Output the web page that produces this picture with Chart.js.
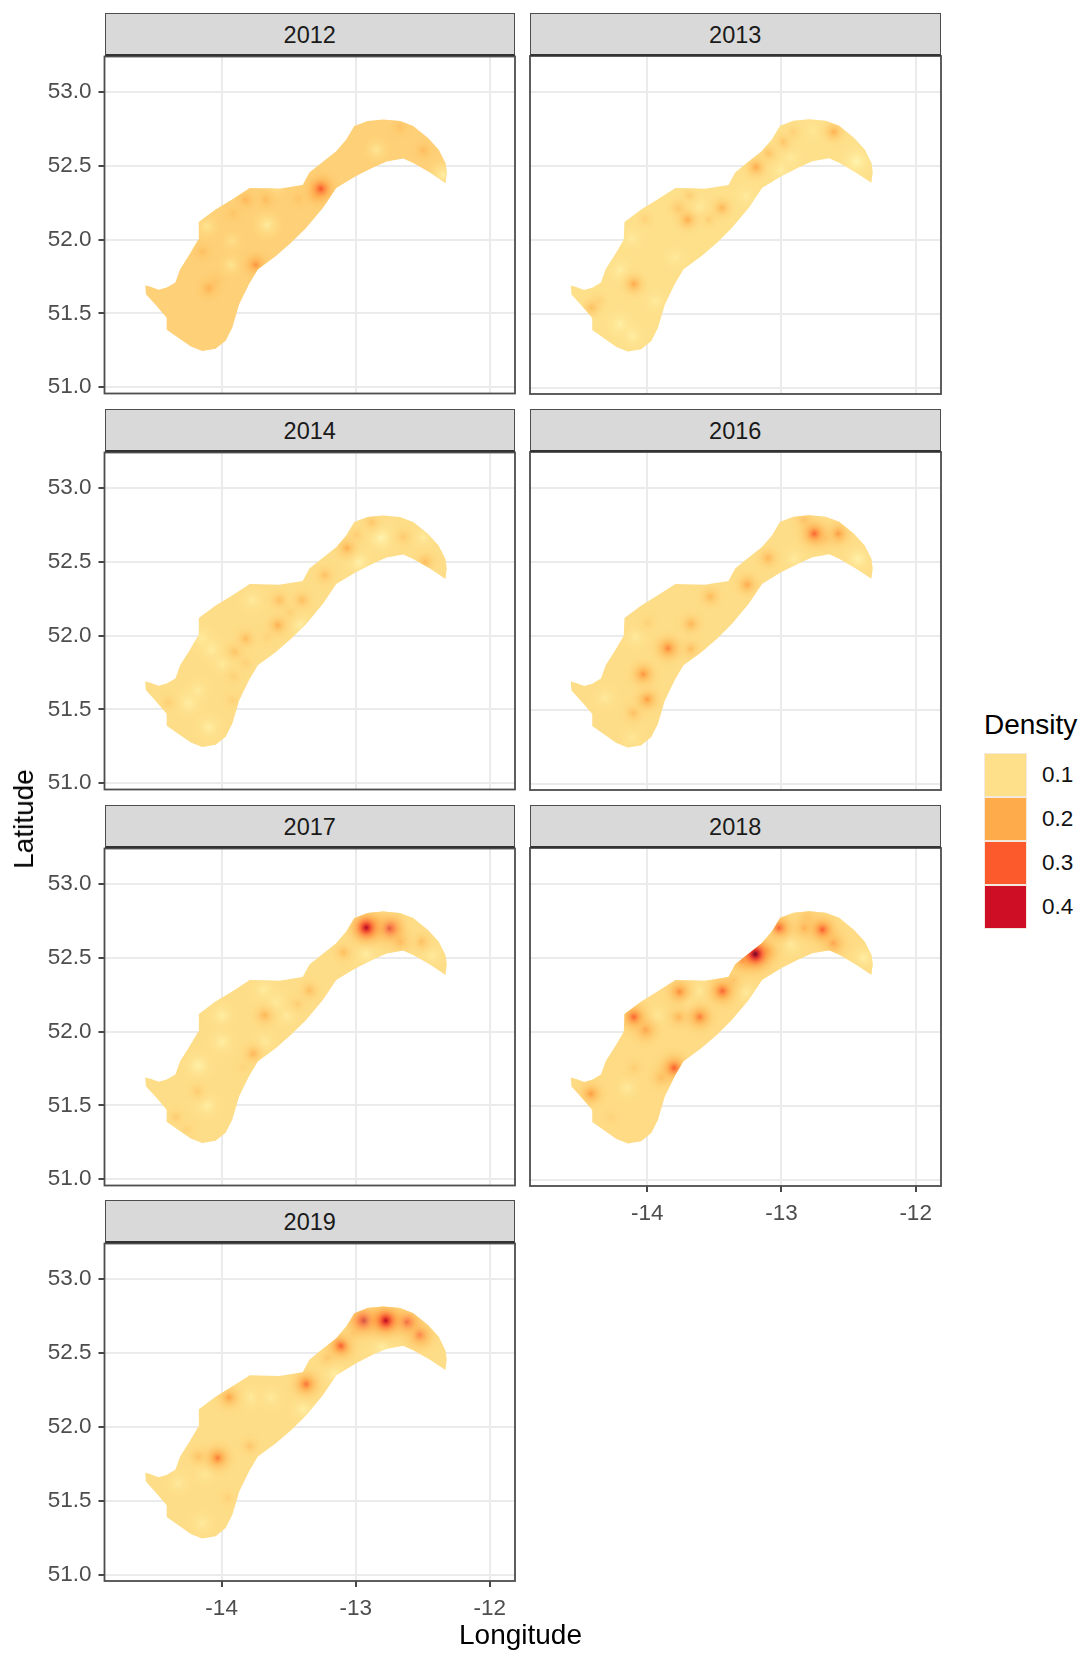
<!DOCTYPE html>
<html>
<head>
<meta charset="utf-8">
<script src="https://cdn.jsdelivr.net/npm/chart.js@4"></script>
<style>
    body { margin: 0; background: #fff; font-family: "Liberation Sans", Arial, sans-serif; }
    #page { position: relative; width: 1086px; height: 1655px; overflow: hidden; }
    canvas { position: absolute; }
    .strip { position: absolute; box-sizing: border-box; background: #d9d9d9; border: 1.5px solid #4d4d4d; border-bottom: 2px solid #333;
        color: #1a1a1a; font-size: 23.5px; text-align: center; }
    .title { position: absolute; color: #000; font-size: 28px; white-space: nowrap; }
    .key { position: absolute; box-sizing: border-box; border: 1px solid #f4e8dc; }
    .keyLabel { position: absolute; color: #111; font-size: 22.5px; }
</style>
</head>
<body>
<div id="page"></div>
<script>
const years = ['2012', '2013', '2014', '2016', '2017', '2018', '2019'];
const xTicks = [-14, -13, -12];
const yTicks = [51, 51.5, 52, 52.5, 53];
const legendValues = [0.1, 0.2, 0.3, 0.4];
const legendColors = ['#fee08b', '#feab4b', '#fc5a2c', '#ce0e24'];

// background density of each year
const baseDensity = [0.13, 0.1, 0.105, 0.105, 0.105, 0.11, 0.105];

// outline of the survey area
const regionLon = [-14.57, -14.53, -14.47, -14.41, -14.345, -14.31, -14.24, -14.175, -14.17, -14.045, -13.91, -13.79, -13.57, -13.395, -13.345, -13.27, -13.145, -13.07, -13.01, -12.91, -12.795, -12.67, -12.57, -12.46, -12.38, -12.33, -12.32, -12.33, -12.445, -12.57, -12.645, -12.77, -12.87, -13.0, -13.145, -13.245, -13.37, -13.48, -13.595, -13.73, -13.795, -13.87, -13.92, -13.97, -14.045, -14.145, -14.23, -14.41, -14.41, -14.495, -14.565];
const regionLat = [51.69, 51.68, 51.66, 51.675, 51.71, 51.8, 51.9, 52.0, 52.12, 52.205, 52.28, 52.35, 52.345, 52.37, 52.455, 52.51, 52.6, 52.68, 52.77, 52.805, 52.815, 52.805, 52.77, 52.69, 52.61, 52.52, 52.455, 52.385, 52.455, 52.52, 52.55, 52.53, 52.49, 52.43, 52.35, 52.215, 52.08, 51.98, 51.89, 51.8, 51.7, 51.56, 51.405, 51.315, 51.26, 51.245, 51.275, 51.39, 51.47, 51.56, 51.63];

// [lon, lat, density] of the places that stand out from the background
const spots2012 = [[-13.26, 52.345, 0.31], [-13.82, 52.27, 0.18], [-13.67, 52.27, 0.17], [-13.91, 52.18, 0.155], [-14.145, 51.92, 0.165], [-14.095, 51.67, 0.19], [-14.05, 51.72, 0.16], [-13.745, 51.83, 0.23], [-13.3, 52.3, 0.19], [-13.66, 52.1, 0.07], [-13.92, 51.99, 0.1], [-13.93, 51.83, 0.09], [-14.11, 52.09, 0.09], [-12.845, 52.61, 0.085], [-12.495, 52.605, 0.17], [-12.67, 52.76, 0.16], [-12.345, 52.44, 0.06], [-13.6, 52.35, 0.1], [-13.42, 52.28, 0.16]];
const spots2013 = [[-13.19, 52.49, 0.2], [-13.1, 52.58, 0.165], [-12.99, 52.66, 0.155], [-12.915, 52.725, 0.14], [-12.61, 52.73, 0.19], [-13.445, 52.215, 0.18], [-13.7, 52.135, 0.195], [-13.765, 52.21, 0.165], [-13.69, 52.295, 0.14], [-13.54, 52.14, 0.14], [-14.015, 52.14, 0.13], [-14.1, 51.7, 0.2], [-14.415, 51.54, 0.165], [-14.365, 51.585, 0.14], [-13.615, 52.215, 0.06], [-13.0, 52.475, 0.06], [-12.44, 52.53, 0.04], [-14.2, 51.425, 0.05], [-14.11, 51.35, 0.06], [-14.2, 51.79, 0.06], [-13.79, 51.88, 0.07], [-13.265, 52.295, 0.07], [-13.94, 51.585, 0.07], [-12.765, 52.735, 0.08], [-12.93, 52.555, 0.07], [-14.115, 52.01, 0.07]];
const spots2014 = [[-13.065, 52.595, 0.19], [-12.88, 52.77, 0.15], [-12.995, 52.68, 0.145], [-12.645, 52.67, 0.145], [-12.48, 52.5, 0.17], [-13.23, 52.41, 0.16], [-13.57, 52.24, 0.165], [-13.4, 52.24, 0.165], [-13.495, 52.16, 0.145], [-13.58, 52.07, 0.19], [-13.66, 51.99, 0.13], [-13.82, 51.98, 0.17], [-13.9, 51.895, 0.16], [-13.825, 51.82, 0.135], [-13.91, 51.725, 0.13], [-13.92, 51.56, 0.13], [-14.4, 51.545, 0.135], [-12.81, 52.665, 0.04], [-12.98, 52.5, 0.05], [-12.495, 52.665, 0.07], [-13.42, 52.08, 0.06], [-13.77, 52.24, 0.07], [-14.145, 51.98, 0.06], [-14.07, 51.9, 0.06], [-13.99, 51.81, 0.07], [-14.24, 51.55, 0.05], [-14.175, 51.63, 0.07], [-14.095, 51.38, 0.06]];
const spots2016 = [[-12.755, 52.69, 0.29], [-12.58, 52.69, 0.23], [-12.67, 52.66, 0.19], [-12.83, 52.78, 0.18], [-13.1, 52.525, 0.18], [-13.255, 52.345, 0.2], [-13.53, 52.265, 0.175], [-13.675, 52.08, 0.18], [-13.845, 51.915, 0.25], [-13.68, 51.91, 0.17], [-14.03, 51.74, 0.23], [-14.0, 51.57, 0.22], [-14.1, 51.48, 0.17], [-13.995, 52.09, 0.13], [-12.43, 52.52, 0.05], [-14.315, 51.58, 0.07], [-14.09, 51.99, 0.07], [-12.905, 52.52, 0.07], [-14.115, 51.31, 0.08]];
const spots2017 = [[-12.92, 52.705, 0.44], [-12.75, 52.7, 0.39], [-12.845, 52.745, 0.2], [-12.835, 52.69, 0.19], [-12.665, 52.61, 0.2], [-12.51, 52.61, 0.165], [-13.09, 52.54, 0.17], [-13.345, 52.28, 0.165], [-13.43, 52.19, 0.14], [-13.68, 52.11, 0.18], [-13.765, 51.85, 0.18], [-13.84, 51.76, 0.125], [-14.18, 51.595, 0.14], [-14.34, 51.42, 0.14], [-14.26, 51.34, 0.13], [-12.92, 52.535, 0.05], [-12.43, 52.52, 0.07], [-13.68, 52.28, 0.06], [-13.595, 52.19, 0.06], [-14.0, 52.11, 0.06], [-14.0, 51.93, 0.06], [-14.175, 51.77, 0.05], [-13.68, 51.93, 0.07], [-14.11, 51.5, 0.06], [-13.51, 52.11, 0.07]];
const spots2018 = [[-13.195, 52.525, 0.5], [-13.29, 52.48, 0.27], [-13.1, 52.55, 0.22], [-13.02, 52.7, 0.3], [-12.695, 52.69, 0.3], [-12.83, 52.7, 0.22], [-12.8, 52.77, 0.2], [-12.615, 52.6, 0.24], [-13.76, 52.27, 0.24], [-13.44, 52.275, 0.29], [-13.355, 52.355, 0.19], [-13.61, 52.1, 0.26], [-13.76, 52.1, 0.19], [-14.1, 52.1, 0.29], [-14.015, 52.015, 0.24], [-13.8, 51.755, 0.3], [-13.895, 51.69, 0.19], [-14.42, 51.58, 0.22], [-14.1, 51.755, 0.135], [-14.27, 51.42, 0.125], [-12.94, 52.6, 0.05], [-13.69, 52.195, 0.06], [-13.61, 52.275, 0.07], [-13.275, 52.275, 0.06], [-13.935, 52.105, 0.07], [-14.15, 51.62, 0.07], [-12.385, 52.5, 0.06]];
const spots2019 = [[-12.935, 52.72, 0.43], [-12.855, 52.725, 0.22], [-12.775, 52.72, 0.43], [-12.62, 52.71, 0.36], [-12.525, 52.625, 0.31], [-12.7, 52.73, 0.2], [-13.11, 52.55, 0.3], [-13.025, 52.635, 0.16], [-13.21, 52.47, 0.16], [-13.37, 52.29, 0.27], [-13.945, 52.2, 0.21], [-14.03, 51.79, 0.26], [-14.17, 51.8, 0.17], [-13.79, 51.87, 0.15], [-13.955, 51.52, 0.13], [-12.805, 52.545, 0.05], [-13.16, 52.365, 0.06], [-13.78, 52.2, 0.07], [-13.63, 52.2, 0.07], [-13.39, 52.12, 0.06], [-14.325, 51.62, 0.07], [-14.12, 51.69, 0.07], [-14.145, 51.35, 0.07]];
const yearSpots = [spots2012, spots2013, spots2014, spots2016, spots2017, spots2018, spots2019];

// colour ramp, density to rgb
const rampStops = [0, 0.05, 0.1, 0.15, 0.2, 0.25, 0.3, 0.35, 0.4, 0.45, 0.5];
const rampRgb = [[255, 255, 204], [255, 242, 170], [254, 224, 139], [254, 198, 105], [254, 171, 75], [253, 130, 60], [252, 90, 44], [232, 50, 35], [206, 14, 36], [165, 5, 38], [110, 0, 38]];

function rampColor(d, alpha) {
    let i = 0;
    while (i < rampStops.length - 2 && d > rampStops[i + 1]) i++;
    const t = Math.min(1, Math.max(0, (d - rampStops[i]) / (rampStops[i + 1] - rampStops[i])));
    const c = rampRgb[i].map((v, k) => Math.round(v + (rampRgb[i + 1][k] - v) * t));
    return `rgba(${c[0]},${c[1]},${c[2]},${alpha})`;
}

function spotRadius(d, base) {
    return d > base ? 15 + 60 * (d - base) : 14 + 170 * (base - d);
}

function spotFill(context, base) {
    const raw = context.raw;
    if (!raw) return 'rgba(0,0,0,0)';
    const { x, y } = context.chart.scales;
    const px = x ? x.getPixelForValue(raw.x) : NaN;
    const py = y ? y.getPixelForValue(raw.y) : NaN;
    if (!isFinite(px) || !isFinite(py)) return 'rgba(0,0,0,0)'; // scales not laid out yet
    const g = context.chart.ctx.createRadialGradient(px, py, 0, px, py, spotRadius(raw.d, base));
    const sharp = 2 + 6 * Math.max(0, raw.d - 0.25);
    for (let t = 0; t <= 1.001; t += 0.1) {
        const fall = Math.pow(1 - Math.min(t, 1), sharp);
        g.addColorStop(Math.min(t, 1), rampColor(base + (raw.d - base) * fall, 1 - Math.min(t, 1)));
    }
    return g;
}

// clips the spots to the outline and draws the panel frame on top
const regionClip = {
    id: 'regionClip',
    beforeDatasetDraw(chart, args) {
        if (args.index !== 0) return;
        const ctx = chart.ctx;
        ctx.save();
        ctx.beginPath();
        chart.getDatasetMeta(1).dataset.path(ctx);
        ctx.closePath();
        ctx.clip();
    },
    afterDatasetDraw(chart, args) {
        if (args.index === 0) chart.ctx.restore();
    },
    afterDatasetsDraw(chart) {
        const { left, top, width, height } = chart.chartArea;
        chart.ctx.save();
        chart.ctx.strokeStyle = '#4d4d4d';
        chart.ctx.lineWidth = 1.8;
        chart.ctx.strokeRect(left, top, width, height);
        chart.ctx.restore();
    }
};

const page = document.getElementById('page');
const colLeft = [104.5, 530];
const rowTop = [56, 451.7, 847.5, 1243.3];
const plotW = 410.5;
const plotH = 337.7;
const stripH = 43;

function addDiv(cls, text, css) {
    const el = document.createElement('div');
    el.className = cls;
    el.textContent = text;
    Object.assign(el.style, css);
    page.appendChild(el);
    return el;
}

years.forEach((year, i) => {
    const col = i % 2;
    const row = Math.floor(i / 2);
    const showY = col === 0;
    const showX = year === '2018' || year === '2019';
    const left = showY ? colLeft[col] : 10;
    const xHeight = showX ? 50 : 0;

    const canvas = document.createElement('canvas');
    const canvasLeft = colLeft[col] - left;
    canvas.width = Math.round(left + plotW + 20);
    canvas.height = Math.round(20 + plotH + (showX ? xHeight : 20));
    canvas.style.left = canvasLeft + 'px';
    canvas.style.top = (rowTop[row] - 20) + 'px';
    page.appendChild(canvas);

    const spots = yearSpots[i].slice().sort((a, b) => a[2] - b[2]).map(s => ({ x: s[0], y: s[1], d: s[2] }));
    const base = baseDensity[i];

    new Chart(canvas.getContext('2d'), {
        type: 'scatter',
        data: {
            datasets: [{
                data: spots,
                showLine: false,
                pointRadius: c => c.raw ? spotRadius(c.raw.d, base) : 0,
                pointBackgroundColor: c => spotFill(c, base),
                pointBorderWidth: 0
            }, {
                data: regionLon.map((lon, k) => ({ x: lon, y: regionLat[k] })),
                showLine: true,
                fill: 'shape',
                backgroundColor: rampColor(base, 1),
                borderWidth: 0,
                pointRadius: 0,
                tension: 0
            }]
        },
        options: {
            responsive: false,
            animation: false,
            events: [],
            layout: { autoPadding: false, padding: { left: 0, top: 20, right: 20, bottom: showX ? 0 : 20 } },
            plugins: { legend: { display: false }, tooltip: { enabled: false } },
            scales: {
                x: {
                    type: 'linear',
                    min: -14.874,
                    max: -11.811,
                    afterBuildTicks: s => { s.ticks = xTicks.map(v => ({ value: v })); },
                    afterFit: s => { s.height = xHeight; },
                    border: { display: false },
                    grid: { color: '#ebebeb', lineWidth: 2, drawTicks: showX, tickLength: 6, tickColor: '#333', tickWidth: 1.8 },
                    ticks: { display: showX, padding: 8, color: '#4d4d4d', font: { family: 'Liberation Sans', size: 22.5 }, autoSkip: false, maxRotation: 0, callback: v => String(v) }
                },
                y: {
                    type: 'linear',
                    min: 50.957,
                    max: 53.242,
                    afterBuildTicks: s => { s.ticks = yTicks.map(v => ({ value: v })); },
                    afterFit: s => { s.width = left; },
                    border: { display: false },
                    grid: { color: '#ebebeb', lineWidth: 2, drawTicks: showY, tickLength: 6, tickColor: '#333', tickWidth: 1.8 },
                    ticks: { display: showY, padding: 7, color: '#4d4d4d', font: { family: 'Liberation Sans', size: 22.5 }, autoSkip: false, callback: v => v.toFixed(1) }
                }
            }
        },
        plugins: [regionClip]
    });

    addDiv('strip', year, {
        left: colLeft[col] + 'px',
        top: (rowTop[row] - stripH) + 'px',
        width: plotW + 'px',
        height: stripH + 'px',
        lineHeight: (stripH - 1) + 'px'
    });
});

addDiv('title', 'Longitude', { left: '459px', top: '1619px' });
addDiv('title', 'Latitude', { left: '24px', top: '819px', transform: 'translate(-50%,-50%) rotate(-90deg)' });
addDiv('title', 'Density', { left: '984px', top: '709px' });

const keyTop = 752.5;
const keyH = 44.1;
legendValues.forEach((v, i) => {
    addDiv('key', '', { left: '984px', top: (keyTop + i * keyH) + 'px', width: '43px', height: keyH + 'px', background: legendColors[i] });
    addDiv('keyLabel', v.toFixed(1), { left: '1042px', top: (keyTop + i * keyH + 9) + 'px' });
});
</script>
</body>
</html>
